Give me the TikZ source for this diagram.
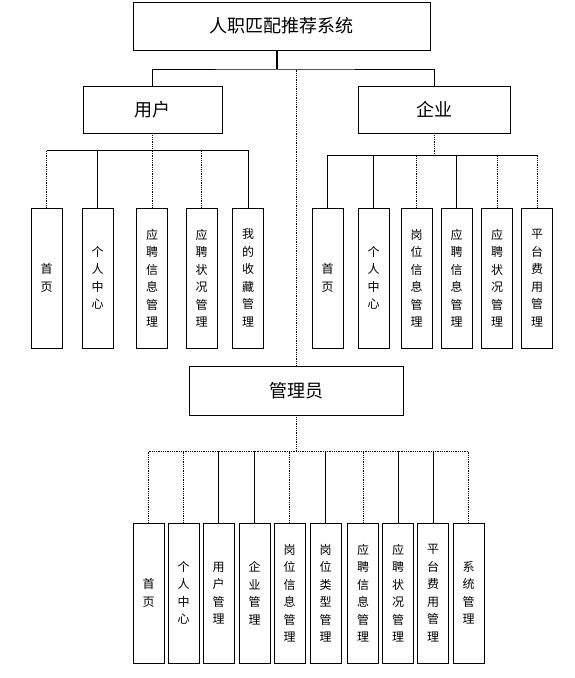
\documentclass[tikz,border=0pt]{standalone}
\usepackage{fontspec}
\newfontfamily\cjk{Noto Sans CJK SC}

\begin{document}
\begin{tikzpicture}[x=1pt, y=-1pt,
  font=\cjk,
  box/.style={draw, line width=0.8pt, inner sep=0pt, align=center, fill=white},
  head/.style={box, minimum height=47pt, font=\cjk\fontsize{18}{20}\selectfont},
  leaf/.style={box, minimum width=31pt, minimum height=140pt, font=\cjk\fontsize{12}{17.5}\selectfont},
  sline/.style={line width=0.8pt},
  dline/.style={line width=0.8pt, densely dotted}]

  \useasboundingbox[fill=white] (0,0) rectangle (574,678);

  % --- root and second level ---
  \node[head, minimum width=297pt, minimum height=48pt] (sys) at (281.5,26) {人职匹配推荐系统};
  \node[head, minimum width=139pt] (user)  at (152.5,109.5) {用户};
  \node[head, minimum width=152pt] (corp)  at (434,109.5)   {企业};
  \node[head, minimum width=214pt, minimum height=49pt] (admin) at (296,390.5) {管理员};

  % --- user leaves ---
  \node[leaf] (u1) at (46.5,278)  {首\\页};
  \node[leaf] (u2) at (97.5,278)  {个\\人\\中\\心};
  \node[leaf] (u3) at (152,278)   {应\\聘\\信\\息\\管\\理};
  \node[leaf] (u4) at (201.5,278) {应\\聘\\状\\况\\管\\理};
  \node[leaf] (u5) at (248,278)   {我\\的\\收\\藏\\管\\理};

  % --- enterprise leaves ---
  \node[leaf] (c1) at (327.5,278) {首\\页};
  \node[leaf] (c2) at (373.5,278) {个\\人\\中\\心};
  \node[leaf] (c3) at (416.5,278) {岗\\位\\信\\息\\管\\理};
  \node[leaf] (c4) at (456.5,278) {应\\聘\\信\\息\\管\\理};
  \node[leaf] (c5) at (497,278)   {应\\聘\\状\\况\\管\\理};
  \node[leaf] (c6) at (537,278)   {平\\台\\费\\用\\管\\理};

  % --- admin leaves ---
  \node[leaf] (a1)  at (148.5,593) {首\\页};
  \node[leaf] (a2)  at (183.5,593) {个\\人\\中\\心};
  \node[leaf] (a3)  at (218.5,593) {用\\户\\管\\理};
  \node[leaf] (a4)  at (254.5,593) {企\\业\\管\\理};
  \node[leaf] (a5)  at (289.5,593) {岗\\位\\信\\息\\管\\理};
  \node[leaf] (a6)  at (325.5,593) {岗\\位\\类\\型\\管\\理};
  \node[leaf] (a7)  at (363,593)   {应\\聘\\信\\息\\管\\理};
  \node[leaf] (a8)  at (398,593)   {应\\聘\\状\\况\\管\\理};
  \node[leaf] (a9)  at (433,593)   {平\\台\\费\\用\\管\\理};
  \node[leaf] (a10) at (468.5,593) {系\\统\\管\\理};

  % --- junctions ---
  \coordinate (j0) at (277,69);
  \coordinate (ub) at (152.5,150);
  \coordinate (cb) at (434,155);
  \coordinate (ab) at (296,451);

  % --- top level links ---
  \draw[line width=1.4pt] (sys.south -| j0) -- (j0);
  \draw[sline] (user.north) |- (j0) -| (corp.north);
  \draw[dline] (admin.north) -- (admin.north |- j0);

  % --- user links ---
  \draw[dline] (user.south) -- (ub);
  \draw[sline] (u1.north |- ub) -- (u5.north |- ub);
  \foreach \i/\s in {1/dline,2/sline,3/dline,4/dline,5/sline}
    \draw[\s] (u\i.north) -- (u\i.north |- ub);

  % --- enterprise links ---
  \draw[dline] (corp.south) -- (cb);
  \draw[sline] (c1.north |- cb) -- (c6.north |- cb);
  \foreach \i/\s in {1/sline,2/sline,3/dline,4/sline,5/dline,6/dline}
    \draw[\s] (c\i.north) -- (c\i.north |- cb);

  % --- admin links ---
  \draw[dline] (admin.south) -- (ab);
  \draw[dline] (a1.north |- ab) -- (a10.north |- ab);
  \foreach \i/\s in {1/dline,2/dline,3/sline,4/sline,5/dline,6/sline,7/dline,8/sline,9/sline,10/dline}
    \draw[\s] (a\i.north) -- (a\i.north |- ab);
\end{tikzpicture}
\end{document}
